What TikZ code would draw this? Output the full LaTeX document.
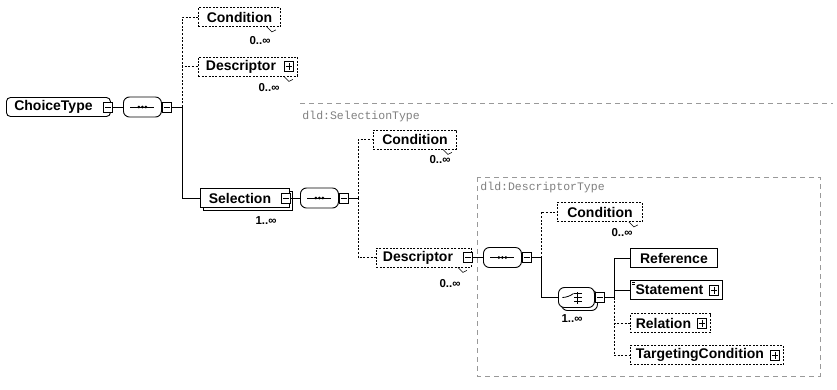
\documentclass[tikz,border=0pt]{standalone}
\usepackage{fontspec}
\setmainfont{Liberation Sans}
\newfontfamily\typefont{Liberation Mono}

\begin{document}
\begin{tikzpicture}[x=1pt,y=-1pt,line width=0.9pt,
  elembox/.style={draw, fill=white, inner sep=0pt, minimum height=19pt, anchor=west,
    font=\fontsize{14}{16}\selectfont\bfseries},
  optbox/.style={elembox, dash pattern=on 2pt off 1.4pt},
  pmbox/.style={draw, fill=white, inner sep=0pt, minimum width=9pt, minimum height=10pt, line width=0.8pt},
  minusbox/.style={pmbox, path picture={
    \draw[line width=0.7pt] ([xshift=1.5pt]path picture bounding box.west) -- ([xshift=-1.5pt]path picture bounding box.east);}},
  plusbox/.style={pmbox, path picture={
    \draw[line width=0.7pt] ([xshift=1.5pt]path picture bounding box.west) -- ([xshift=-1.5pt]path picture bounding box.east)
      ([yshift=-1.5pt]path picture bounding box.north) -- ([yshift=1.5pt]path picture bounding box.south);}},
  compbox/.style={draw, fill=white, rectangle, rounded corners=6pt, minimum width=38pt,
    minimum height=20pt, inner sep=0pt, anchor=west},
  seqbox/.style={compbox, path picture={
    \draw[black, line width=0.8pt] ([xshift=7pt]path picture bounding box.west) -- ([xshift=-7pt]path picture bounding box.east);
    \fill[black] ([xshift=-3.5pt]path picture bounding box.center) circle[radius=1.5pt];
    \fill[black] (path picture bounding box.center) circle[radius=1.5pt];
    \fill[black] ([xshift=3.5pt]path picture bounding box.center) circle[radius=1.5pt];}},
  choicebox/.style={compbox, minimum width=36pt, path picture={
    \draw[black, line width=0.8pt] ([xshift=5pt]path picture bounding box.west) -- ++(5pt,0) -- ++(5pt,4pt);
    \draw[black, line width=0.8pt] ([xshift=19pt]path picture bounding box.west) ++(0,-6pt) -- ++(0,12pt);
    \draw[black, line width=0.8pt] ([shift={(16pt,4pt)}]path picture bounding box.west) -- ++(8pt,0);
    \draw[black, line width=0.8pt] ([shift={(16pt,0pt)}]path picture bounding box.west) -- ++(8pt,0);
    \draw[black, line width=0.8pt] ([shift={(16pt,-4pt)}]path picture bounding box.west) -- ++(8pt,0);}},
  optlink/.style={dash pattern=on 2pt off 1.6pt},
  mult/.style={font=\fontsize{11.5}{12}\selectfont\bfseries, inner sep=0pt},
  notch/.style={line width=0.6pt},
  typelabel/.style={font=\typefont\fontsize{11.5}{12}\selectfont, text=black!50, inner sep=0pt, anchor=west},
  typeframe/.style={draw=black!40, line width=0.7pt, dash pattern=on 5pt off 4pt}
]
\useasboundingbox (0,0) rectangle (837,389);
\fill[white] (0,0) rectangle (837,389);

% frames of the two local complex types
\draw[typeframe] (300,103) -- (833,103);
\draw[typeframe] (477,177) rectangle (820,376);
\node[typelabel] (seltype) at (302,117) {dld:SelectionType};
\node[typelabel] (desctype) at (480,188) {dld:DescriptorType};

% root element and its sequence
\node[elembox, rounded corners=4pt, minimum width=104pt] (ct) at (6,107) {ChoiceType\hspace*{10pt}};
\node[minusbox] (ctm) at ([xshift=-3pt]ct.east) {};
\node[seqbox] (c1) at (123,107) {};
\node[minusbox] (c1m) at ([xshift=5pt]c1.east) {};
\coordinate (j1) at (182,107);

\node[optbox, minimum width=82pt] (cond1) at (198,17) {Condition};
\node[optbox, minimum width=99pt] (desc1) at (198,66.5) {Descriptor\hspace*{14pt}};
\node[plusbox] (desc1p) at ([xshift=-9pt]desc1.east) {};

% Selection with repeated-occurrence shadow
\node[elembox, minimum width=89pt] (selshadow) at (203,201) {};
\node[elembox, minimum width=89pt] (sel) at (200,198) {Selection\hspace*{10pt}};
\node[minusbox] (selm) at ([xshift=-4pt]sel.east) {};
\node[seqbox] (c2) at (300,198) {};
\node[minusbox] (c2m) at ([xshift=5pt]c2.east) {};
\coordinate (j2) at (358,198);

\node[optbox, minimum width=83pt] (cond2) at (373,139.5) {Condition};
\node[optbox, minimum width=95pt] (desc2) at (376,257.5) {Descriptor\hspace*{12pt}};
\node[minusbox] (desc2m) at ([xshift=-4pt]desc2.east) {};
\node[seqbox] (c3) at (483,257.5) {};
\node[minusbox] (c3m) at ([xshift=5pt]c3.east) {};
\coordinate (j3) at (541,257.5);

\node[optbox, minimum width=85pt] (cond3) at (557,212) {Condition};
\node[compbox, minimum width=36pt] (chshadow) at (561,300.5) {};
\node[choicebox] (ch) at (558,297.5) {};
\node[minusbox] (chm) at ([xshift=5pt]ch.east) {};
\coordinate (j4) at (614,297.5);

\node[elembox, minimum width=87pt] (ref) at (630,258) {Reference};
\node[elembox, minimum width=92pt] (stat) at (630,290) {Statement\hspace*{14pt}};
\node[plusbox] (statp) at ([xshift=-9pt]stat.east) {};
\node[optbox, minimum width=80pt] (rel) at (630,323) {Relation\hspace*{14pt}};
\node[plusbox] (relp) at ([xshift=-9pt]rel.east) {};
\node[optbox, minimum width=153pt] (targ) at (630,355) {TargetingCondition\hspace*{14pt}};
\node[plusbox] (targp) at ([xshift=-9pt]targ.east) {};

% small mark of the Statement element
\draw[line width=0.4pt] ([shift={(2pt,-2.5pt)}]stat.north west) -- ++(3pt,0)
      ([shift={(2pt,-4.5pt)}]stat.north west) -- ++(3pt,0);

% connectors
\draw (ctm.east) -- (c1.west);
\draw (c1m.east) -- (j1);
\draw[optlink] (j1) |- (cond1.west);
\draw[optlink] (j1) |- (desc1.west);
\draw (j1) |- (sel.west);

\draw (selm.east) -- (c2.west);
\draw (c2m.east) -- (j2);
\draw[optlink] (j2) |- (cond2.west);
\draw[optlink] (j2) |- (desc2.west);

\draw (desc2m.east) -- (c3.west);
\draw (c3m.east) -- (j3);
\draw[optlink] (j3) |- (cond3.west);
\draw (j3) |- (ch.west);

\draw (chm.east) -- (j4);
\draw (j4) |- (ref.west);
\draw (j4) |- (stat.west);
\draw[optlink] (j4) |- (rel.west);
\draw[optlink] (j4) |- (targ.west);

% occurrence marks and labels
\draw[notch] ([xshift=-14pt]cond1.south east) -- ++(5pt,-5pt) -- ++(4pt,2pt);
\draw[notch] ([xshift=-14pt]desc1.south east) -- ++(5pt,-5pt) -- ++(4pt,2pt);
\draw[notch] ([xshift=-14pt]cond2.south east) -- ++(5pt,-5pt) -- ++(4pt,2pt);
\draw[notch] ([xshift=-14pt]desc2.south east) -- ++(5pt,-5pt) -- ++(4pt,2pt);
\draw[notch] ([xshift=-14pt]cond3.south east) -- ++(5pt,-5pt) -- ++(4pt,2pt);
\node[mult] (m1) at (260,41) {0..∞};
\node[mult] (m2) at (269,88) {0..∞};
\node[mult] (m3) at (266,221) {1..∞};
\node[mult] (m4) at (440,160) {0..∞};
\node[mult] (m5) at (450,284) {0..∞};
\node[mult] (m6) at (622,233) {0..∞};
\node[mult] (m7) at (572,319) {1..∞};
\end{tikzpicture}
\end{document}
